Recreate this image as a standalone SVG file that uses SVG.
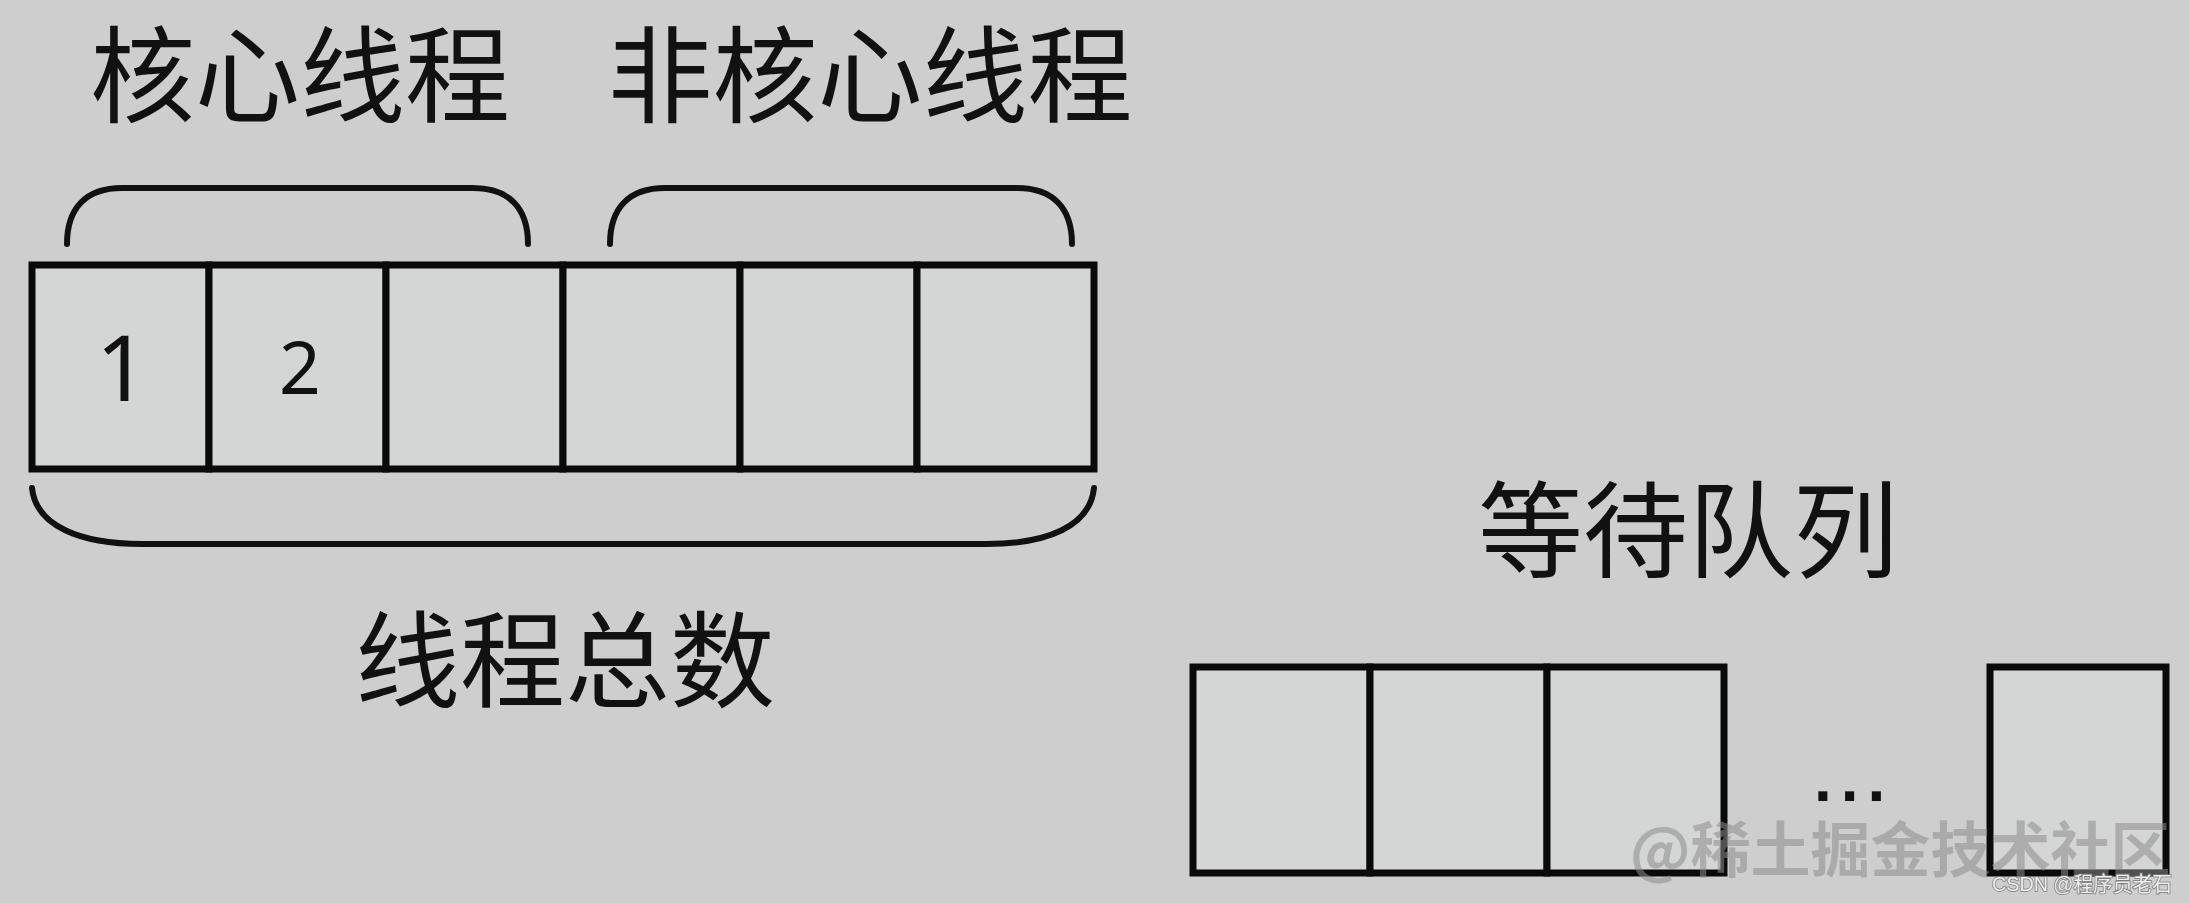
<svg xmlns="http://www.w3.org/2000/svg" width="2189" height="903" viewBox="0 0 2189 903">
  <style>
    .cjk { font-family: "Noto Sans CJK SC", "Noto Sans", sans-serif; fill: #111; }
    .lbl { font-size: 105px; text-anchor: middle; }
    .cell { fill: #d4d5d5; stroke: #0a0a0a; stroke-width: 7; }
    .brace { fill: none; stroke: #111; stroke-width: 6; stroke-linecap: round; }
    .num { font-family: "Noto Sans", "DejaVu Sans", sans-serif; fill: #111; text-anchor: middle; }
  </style>
  <rect x="0" y="0" width="2189" height="903" fill="#cecece"/>

  <g id="label-core">
    <text class="cjk lbl" x="300" y="114">核心线程</text>
  </g>
  <g id="label-noncore">
    <text class="cjk lbl" x="870" y="114">非核心线程</text>
  </g>

  <g id="thread-pool">
    <rect class="cell" x="32" y="265" width="177" height="204"/>
    <rect class="cell" x="209" y="265" width="177" height="204"/>
    <rect class="cell" x="386" y="265" width="177" height="204"/>
    <rect class="cell" x="563" y="265" width="177" height="204"/>
    <rect class="cell" x="740" y="265" width="177" height="204"/>
    <rect class="cell" x="917" y="265" width="177" height="204"/>
    <text class="num" x="122" y="401" font-size="92">1</text>
    <text class="num" x="300" y="394" font-size="73">2</text>
  </g>

  <g id="connectors">
    <path class="brace" d="M67,244 C67,208 86,188 122,188 L473,188 C509,188 528,208 528,244"/>
    <path class="brace" d="M610,244 C610,208 629,188 665,188 L1017,188 C1053,188 1072,208 1072,244"/>
    <path class="brace" d="M32,488 C36,526 80,544 142,544 L986,544 C1048,544 1090,526 1094,488"/>
  </g>

  <g id="label-total">
    <text class="cjk lbl" x="565" y="699">线程总数</text>
  </g>

  <g id="label-queue">
    <text class="cjk lbl" x="1688" y="569">等待队列</text>
  </g>

  <g id="wait-queue">
    <rect class="cell" x="1193" y="667" width="177" height="206"/>
    <rect class="cell" x="1370" y="667" width="177" height="206"/>
    <rect class="cell" x="1547" y="667" width="177" height="206"/>
    <rect class="cell" x="1990" y="667" width="176" height="206"/>
    <text x="1814" y="801" font-family="Liberation Sans, Arial, sans-serif" font-weight="bold" font-size="64" letter-spacing="9" fill="#111">...</text>
  </g>

  <g id="watermarks">
    <text class="cjk" x="1630" y="872" font-size="60" font-weight="bold" fill-opacity="0.55" style="fill:#8c8c8c">@稀土掘金技术社区</text>
    <text x="1992" y="891" font-family="Liberation Sans, Noto Sans CJK SC, sans-serif" font-size="21" textLength="180" lengthAdjust="spacingAndGlyphs" fill="#eeeeee" stroke="#7a7a7a" stroke-width="1.6" paint-order="stroke">CSDN @程序员老石</text>
  </g>
</svg>
